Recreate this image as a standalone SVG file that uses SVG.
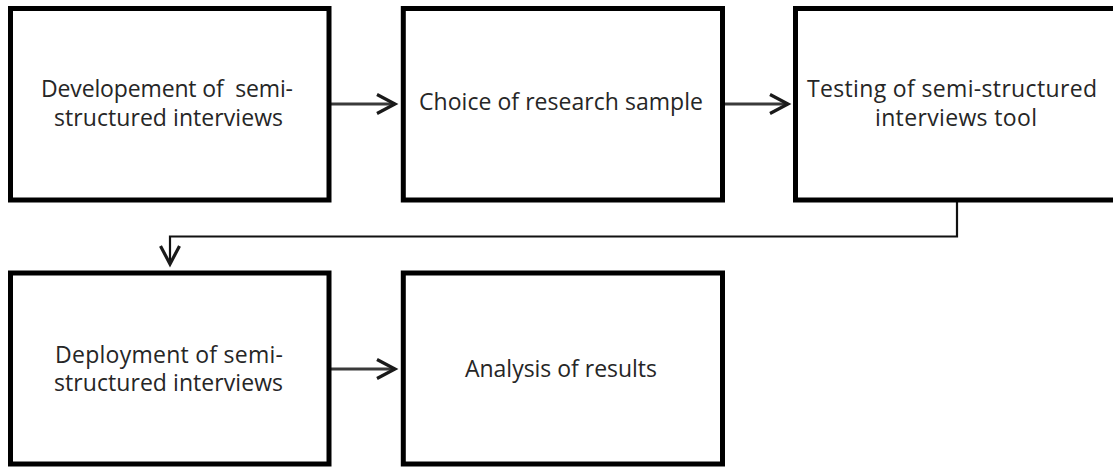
<svg xmlns="http://www.w3.org/2000/svg" width="1113" height="467" viewBox="0 0 1113 467">
  <style>
    .box { fill: #ffffff; stroke: #000000; stroke-width: 5; }
    .lbl { font-family: "Open Sans", Lato, "Liberation Sans", sans-serif; font-size: 23px; fill: #262626; text-anchor: middle; white-space: pre; font-variant-ligatures: none; }
    .arr { fill: none; stroke: #3a3a3a; stroke-width: 3; }
    .elbow { fill: none; stroke: #111111; stroke-width: 2.2; }
  </style>
  <defs>
    <marker id="chev" markerUnits="userSpaceOnUse" viewBox="-22 -12 24 24" markerWidth="24" markerHeight="24" refX="0" refY="0" orient="auto" overflow="visible">
      <path d="M-18,-9.5 L0,0 L-18,9.5" fill="none" stroke="#1a1a1a" stroke-width="3.2" stroke-linejoin="miter"/>
    </marker>
  </defs>
  <rect x="0" y="0" width="1113" height="467" fill="#ffffff"/>

  <g id="connectors">
    <line class="arr" x1="331" y1="104" x2="395" y2="104" marker-end="url(#chev)"/>
    <line class="arr" x1="725" y1="104" x2="788" y2="104" marker-end="url(#chev)"/>
    <path class="elbow" d="M957,202 V236.5 H170 V264" marker-end="url(#chev)"/>
    <line class="arr" x1="331" y1="369" x2="395" y2="369" marker-end="url(#chev)"/>
  </g>

  <g id="node-development">
    <rect class="box" x="10.5" y="8.5" width="318.5" height="191.5"/>
    <text class="lbl" x="167" y="97" textLength="252">Developement of  semi-</text>
    <text class="lbl" x="168.5" y="126" textLength="229">structured interviews</text>
  </g>

  <g id="node-choice">
    <rect class="box" x="403.3" y="8.5" width="319.2" height="191.5"/>
    <text class="lbl" x="561" y="110" textLength="284">Choice of research sample</text>
  </g>

  <g id="node-testing">
    <rect class="box" x="795.5" y="8.5" width="325" height="191.5"/>
    <text class="lbl" x="952" y="97" textLength="290">Testing of semi-structured</text>
    <text class="lbl" x="956" y="126" textLength="162">interviews tool</text>
  </g>

  <g id="node-deployment">
    <rect class="box" x="10.5" y="273" width="318.5" height="191"/>
    <text class="lbl" x="169" y="363" textLength="228">Deployment of semi-</text>
    <text class="lbl" x="168.5" y="391" textLength="229">structured interviews</text>
  </g>

  <g id="node-analysis">
    <rect class="box" x="403.3" y="273" width="319.2" height="191"/>
    <text class="lbl" x="561" y="377" textLength="192">Analysis of results</text>
  </g>
</svg>
